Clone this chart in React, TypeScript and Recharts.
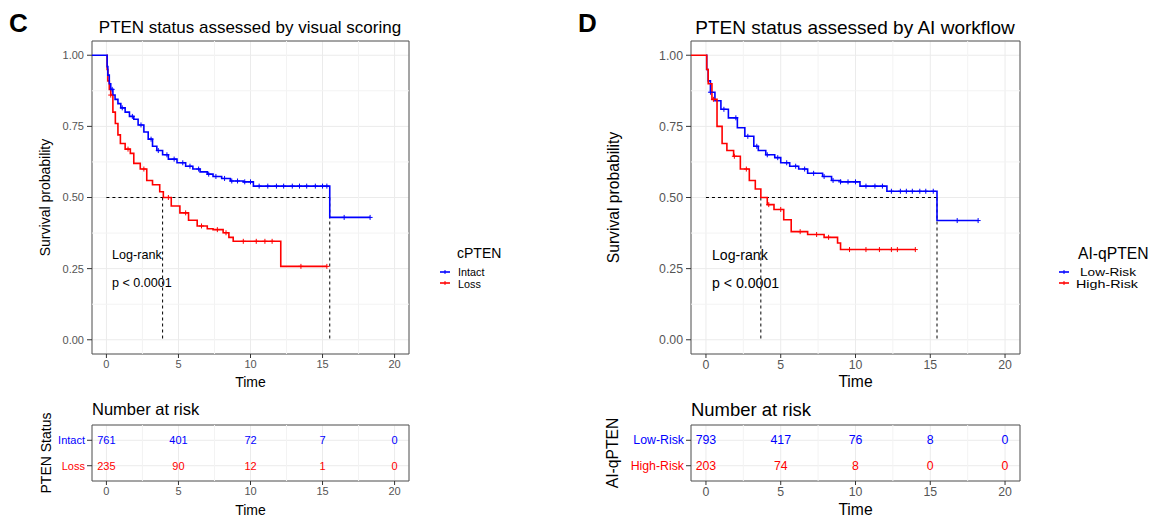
import React from 'react';
import {
  ComposedChart, Line, Scatter, XAxis, YAxis, CartesianGrid, ReferenceLine, ReferenceArea,
} from 'recharts';

// ---- panel C: visual scoring ----
const cIntactTime = [-1, 0, 0.05, 0.1, 0.2, 0.3, 0.45, 0.6, 0.8, 1.0, 1.3, 1.6, 1.9, 2.2, 2.6, 2.9, 3.2, 3.5, 3.9, 4.3, 4.9, 5.5, 6.0, 6.5, 7.0, 7.4, 8.0, 8.6, 9.5, 10.2, 15.5, 18.3];
const cIntactSurv = [1, 1, 0.96, 0.93, 0.9, 0.88, 0.86, 0.845, 0.83, 0.815, 0.8, 0.785, 0.775, 0.755, 0.73, 0.705, 0.68, 0.665, 0.65, 0.635, 0.622, 0.61, 0.6, 0.59, 0.582, 0.574, 0.567, 0.558, 0.555, 0.54, 0.43, 0.43];
const cIntactCensor = [0.4, 1.1, 1.8, 2.4, 3.1, 3.6, 4.2, 4.7, 5.3, 5.8, 6.4, 7.1, 7.6, 8.2, 8.7, 9.1, 9.6, 10.0, 10.6, 11.2, 11.8, 12.3, 12.9, 13.4, 13.9, 14.5, 15.0, 15.3, 16.5, 18.3];

const cLossTime = [0, 0.05, 0.1, 0.2, 0.3, 0.45, 0.62, 0.8, 0.97, 1.3, 1.66, 1.9, 2.35, 2.8, 3.2, 3.7, 3.95, 4.5, 5.1, 5.7, 6.3, 7.0, 7.4, 8.1, 8.5, 8.8, 12.1, 15.3];
const cLossSurv = [1, 0.95, 0.91, 0.88, 0.86, 0.8, 0.76, 0.72, 0.69, 0.67, 0.655, 0.62, 0.6, 0.56, 0.545, 0.52, 0.5, 0.47, 0.446, 0.42, 0.4, 0.39, 0.387, 0.376, 0.36, 0.346, 0.258, 0.258];
const cLossCensor = [0.3, 1.5, 2.6, 4.3, 5.5, 6.6, 7.7, 8.3, 9.5, 10.4, 11.0, 11.5, 13.5, 15.3];

const cMedian = [3.9, 15.5];

// ---- panel D: AI workflow ----
const aiLowTime = [0, 0.05, 0.15, 0.3, 0.6, 1.0, 1.5, 2.1, 2.6, 3.2, 3.5, 4.0, 4.6, 5.0, 5.6, 6.2, 6.8, 7.8, 8.4, 9.0, 10.3, 12.1, 15.45, 18.2];
const aiLowSurv = [1, 0.95, 0.91, 0.87, 0.84, 0.81, 0.78, 0.745, 0.715, 0.68, 0.665, 0.65, 0.64, 0.622, 0.61, 0.6, 0.585, 0.574, 0.56, 0.555, 0.54, 0.522, 0.419, 0.419];
const aiLowCensor = [0.3, 1.2, 2.0, 2.8, 3.4, 4.1, 4.8, 5.4, 6.0, 6.6, 7.2, 7.9, 8.5, 9.0, 9.5, 10.0, 10.7, 11.3, 11.8, 12.4, 13.0, 13.4, 13.8, 14.3, 14.7, 15.2, 16.8, 18.2];

const aiHighTime = [-1, 0, 0.05, 0.15, 0.4, 0.74, 1.08, 1.4, 1.85, 2.3, 2.9, 3.3, 3.67, 4.1, 4.55, 5.2, 5.7, 6.8, 7.9, 8.8, 9.0, 14.0];
const aiHighSurv = [1, 1, 0.95, 0.9, 0.845, 0.75, 0.69, 0.665, 0.645, 0.6, 0.56, 0.53, 0.5, 0.475, 0.458, 0.422, 0.38, 0.37, 0.36, 0.34, 0.317, 0.317];
const aiHighCensor = [0.5, 1.9, 2.7, 4.2, 5.0, 6.3, 7.4, 8.2, 9.6, 10.7, 11.6, 12.4, 12.8, 14.0];

const aiMedian = [3.67, 15.45];

// ---- number at risk ----
const riskTimes = [0, 5, 10, 15, 20];
const cIntactRisk = [761, 401, 72, 7, 0];
const cLossRisk = [235, 90, 12, 1, 0];
const aiLowRisk = [793, 417, 76, 8, 0];
const aiHighRisk = [203, 74, 8, 0, 0];

const xTicks = [0, 5, 10, 15, 20];
const xMinor = [2.5, 7.5, 12.5, 17.5];
const yTicks = [0, 0.25, 0.5, 0.75, 1];
const yMinor = [0.125, 0.375, 0.625, 0.875];

const BLUE = '#0000ff';
const RED = '#ff0000';
const FONT = '"Liberation Sans", Arial, Helvetica, sans-serif';

const survAt = (time: number[], surv: number[], t: number) => {
  let s = surv[0];
  for (let i = 0; i < time.length; i++) if (time[i] <= t) s = surv[i];
  return s;
};

const Plus = (color: string) => (p: any) => (
  <path d={`M${p.cx - 2.5},${p.cy}h5M${p.cx},${p.cy - 2.5}v5`} stroke={color} strokeWidth={1} />
);

type Curve = { time: number[]; surv: number[]; censor: number[]; color: string };

const KMChart = ({ left, width, plotLeft, plotRight, curves, median, k, yLabelX }: any) => {
  const right = width - (plotRight - left);
  const yw = plotLeft - left;
  return (
    <div style={{ position: 'absolute', left, top: 0 }}>
      <ComposedChart width={width} height={395} margin={{ top: 41, right, left: 0, bottom: 0 }}>
        <CartesianGrid stroke="#ebebeb" strokeWidth={1} />
        {xMinor.map((v) => <ReferenceLine key={'xm' + v} x={v} stroke="#f3f3f3" />)}
        {yMinor.map((v) => <ReferenceLine key={'ym' + v} y={v} stroke="#f3f3f3" />)}
        <XAxis type="number" dataKey="t" domain={[-1, 21]} ticks={xTicks} allowDataOverflow
          axisLine={false} tickLine={{ stroke: '#333' }} tickSize={4} height={41}
          tick={{ fill: '#555', fontSize: 11 * k, fontFamily: FONT }}
          label={{ value: 'Time', position: 'insideBottom', offset: 8, fill: '#000', fontSize: 14 * k, fontFamily: FONT }} />
        <YAxis type="number" dataKey="s" domain={[-0.05, 1.05]} ticks={yTicks} allowDataOverflow width={yw}
          axisLine={false} tickLine={{ stroke: '#333' }} tickSize={5} tickMargin={3}
          tickFormatter={(v: number) => v.toFixed(2)}
          tick={{ fill: '#555', fontSize: 11 * k, fontFamily: FONT }}
          label={{ value: 'Survival probability', angle: -90, position: 'insideLeft', offset: yLabelX, fill: '#000', fontSize: 14 * k, fontFamily: FONT, style: { textAnchor: 'middle' } }} />
        <ReferenceArea x1={-1} x2={21} y1={-0.05} y2={1.05} fill="none" fillOpacity={0} stroke="#555" strokeWidth={1} />
        <ReferenceLine segment={[{ x: 0, y: 0.5 }, { x: median[1], y: 0.5 }]} stroke="#000" strokeDasharray="3 3" />
        {median.map((m: number) => (
          <ReferenceLine key={'md' + m} segment={[{ x: m, y: 0.5 }, { x: m, y: 0 }]} stroke="#000" strokeDasharray="3 3" />
        ))}
        {curves.map((c: Curve, i: number) => (
          <Line key={'l' + i} type="stepAfter" dataKey="s" data={c.time.map((t, j) => ({ t, s: c.surv[j] }))}
            stroke={c.color} strokeWidth={1.6} dot={false} isAnimationActive={false} />
        ))}
        {curves.map((c: Curve, i: number) => (
          <Scatter key={'c' + i} data={c.censor.map((t) => ({ t, s: survAt(c.time, c.surv, t) }))}
            shape={Plus(c.color)} isAnimationActive={false} />
        ))}
      </ComposedChart>
    </div>
  );
};

const RiskChart = ({ left, width, plotLeft, plotRight, rows, k, yLabelX, title }: any) => {
  const right = width - (plotRight - left);
  const yw = plotLeft - left;
  const fs = 11 * k;
  return (
    <div style={{ position: 'absolute', left, top: 380 }}>
      <ComposedChart width={width} height={138} margin={{ top: 45, right, left: 0, bottom: 0 }}>
        <CartesianGrid stroke="#ebebeb" strokeWidth={1} />
        {xMinor.map((v) => <ReferenceLine key={'xm' + v} x={v} stroke="#f3f3f3" />)}
        <XAxis type="number" dataKey="t" domain={[-1, 21]} ticks={xTicks} allowDataOverflow
          axisLine={false} tickLine={{ stroke: '#333' }} tickSize={4} height={37}
          tick={{ fill: '#555', fontSize: fs, fontFamily: FONT }}
          label={{ value: 'Time', position: 'insideBottom', offset: 3, fill: '#000', fontSize: 14 * k, fontFamily: FONT }} />
        <YAxis type="number" dataKey="row" domain={[0.4, 2.6]} ticks={[1, 2]} allowDataOverflow width={yw}
          axisLine={false} tickLine={{ stroke: '#333' }} tickSize={5} tickMargin={2}
          tick={(p: any) => {
            const r = rows.find((x: any) => x.row === p.payload.value);
            return (
              <text x={p.x} y={p.y} textAnchor="end" dominantBaseline="central" fontSize={fs} fontFamily={FONT} fill={r.color}>
                {r.name}
              </text>
            );
          }}
          label={{ value: title, angle: -90, position: 'insideLeft', offset: yLabelX, fill: '#000', fontSize: 14 * k, fontFamily: FONT, style: { textAnchor: 'middle' } }} />
        <ReferenceArea x1={-1} x2={21} y1={0.4} y2={2.6} fill="none" fillOpacity={0} stroke="#555" strokeWidth={1} />
        {rows.map((r: any) => (
          <Scatter key={r.name} data={riskTimes.map((t, i) => ({ t, row: r.row, n: r.values[i] }))}
            isAnimationActive={false}
            shape={(p: any) => (
              <text x={p.cx} y={p.cy} textAnchor="middle" dominantBaseline="central" fontSize={fs} fontFamily={FONT} fill={r.color}>
                {p.payload.n}
              </text>
            )} />
        ))}
      </ComposedChart>
    </div>
  );
};

const LegendKey = ({ x, y, color }: any) => (
  <g>
    <line x1={x} x2={x + 10} y1={y} y2={y} stroke={color} strokeWidth={1.6} />
    <line x1={x + 5} x2={x + 5} y1={y - 2} y2={y + 2} stroke={color} strokeWidth={1} />
  </g>
);

export default function App() {
  const k2 = 1.12;
  return (
    <div style={{ position: 'absolute', left: 0, top: 0, width: 1166, height: 518, background: '#fff', fontFamily: FONT }}>
      <KMChart left={0} width={580} plotLeft={92} plotRight={409} k={1} yLabelX={45} median={cMedian}
        curves={[
          { time: cLossTime, surv: cLossSurv, censor: cLossCensor, color: RED },
          { time: cIntactTime, surv: cIntactSurv, censor: cIntactCensor, color: BLUE },
        ]} />
      <KMChart left={580} width={586} plotLeft={691} plotRight={1020} k={k2} yLabelX={33} median={aiMedian}
        curves={[
          { time: aiLowTime, surv: aiLowSurv, censor: aiLowCensor, color: BLUE },
          { time: aiHighTime, surv: aiHighSurv, censor: aiHighCensor, color: RED },
        ]} />
      <RiskChart left={0} width={580} plotLeft={92} plotRight={409} k={1} yLabelX={46} title="PTEN Status"
        rows={[
          { name: 'Intact', row: 2, values: cIntactRisk, color: BLUE },
          { name: 'Loss', row: 1, values: cLossRisk, color: RED },
        ]} />
      <RiskChart left={580} width={586} plotLeft={691} plotRight={1020} k={k2} yLabelX={32} title="AI-qPTEN"
        rows={[
          { name: 'Low-Risk', row: 2, values: aiLowRisk, color: BLUE },
          { name: 'High-Risk', row: 1, values: aiHighRisk, color: RED },
        ]} />
      <svg width={1166} height={518} style={{ position: 'absolute', left: 0, top: 0, pointerEvents: 'none' }} fontFamily={FONT}>
        <text x={9} y={23} dominantBaseline="central" fontSize={26} fontWeight="bold">C</text>
        <text x={578} y={23} dominantBaseline="central" fontSize={26} fontWeight="bold">D</text>
        <text x={250} y={27} textAnchor="middle" dominantBaseline="central" fontSize={17}>PTEN status assessed by visual scoring</text>
        <text x={855} y={27} textAnchor="middle" dominantBaseline="central" fontSize={17 * k2}>PTEN status assessed by AI workflow</text>

        <text x={112} y={255} dominantBaseline="central" fontSize={12.6}>Log-rank</text>
        <text x={112} y={283} dominantBaseline="central" fontSize={12.6}>p &lt; 0.0001</text>
        <text x={712} y={255} dominantBaseline="central" fontSize={12.6 * k2}>Log-rank</text>
        <text x={712} y={283} dominantBaseline="central" fontSize={12.6 * k2}>p &lt; 0.0001</text>

        <text x={457} y={253} dominantBaseline="central" fontSize={14}>cPTEN</text>
        <LegendKey x={440} y={272} color={BLUE} />
        <LegendKey x={440} y={283} color={RED} />
        <text x={458} y={271.5} dominantBaseline="central" fontSize={10.8}>Intact</text>
        <text x={458} y={283.5} dominantBaseline="central" fontSize={10.8}>Loss</text>

        <text x={1078} y={253} dominantBaseline="central" fontSize={14 * k2}>AI-qPTEN</text>
        <LegendKey x={1059} y={272} color={BLUE} />
        <LegendKey x={1059} y={283} color={RED} />
        <text x={1080} y={271.5} dominantBaseline="central" fontSize={10.8} textLength={56} lengthAdjust="spacingAndGlyphs">Low-Risk</text>
        <text x={1076} y={283.5} dominantBaseline="central" fontSize={10.8} textLength={62} lengthAdjust="spacingAndGlyphs">High-Risk</text>

        <text x={92} y={409} dominantBaseline="central" fontSize={16.5}>Number at risk</text>
        <text x={691} y={409} dominantBaseline="central" fontSize={16.5 * k2}>Number at risk</text>
      </svg>
    </div>
  );
}
